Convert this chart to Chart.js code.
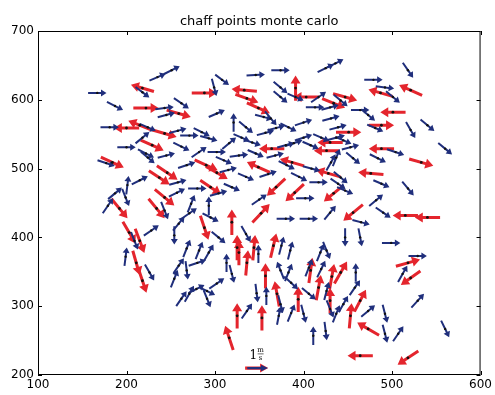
<!DOCTYPE html>
<html>
<head>
<meta charset="utf-8">
<script src="https://cdn.jsdelivr.net/npm/chart.js@4.4.1/dist/chart.umd.min.js"></script>
<style>
  html, body { margin: 0; padding: 0; background: #fff; }
  #wrap { width: 495px; height: 395px; }
</style>
</head>
<body>
<div id="wrap"><canvas id="chart" width="495" height="395"></canvas></div>
<script>
// axis limits
const xRange = [100, 600];
const yRange = [200, 700];
const tickStep = 100;

// [x, y, u, v] per arrow, u/v in m/s
const blueArrows = [
  [167,610,0.8,0],[187,591,0.7,-0.35],[235,633,0.7,0.3],[251,643,0.7,0.35],[218,611,0.6,-0.45],
  [299,618,0.2,-0.75],[308,629,0.6,-0.45],[346,636,0.8,0.05],[374,643,0.8,0],[374,618,0.6,-0.5],
  [374,604,0.6,-0.5],[243,588,0.8,0.1],[262,595,0.65,-0.45],[245,578,0.75,0.2],[302,580,0.7,0.3],
  [321,567,0,0.8],[335,560,0.6,-0.5],[355,575,0.75,-0.2],[363,573,0.5,-0.6],[181,560,0.8,0],
  [224,560,0.7,-0.3],[218,545,0.6,0.5],[271,548,0.8,0],[285,553,0.7,-0.35],[293,544,0.75,-0.2],
  [316,537,0.6,0.5],[342,538,0.75,-0.25],[369,559,0.75,0.2],[383,560,0.7,-0.35],[389,537,0.75,0.25],
  [200,531,0.8,0],[245,519,0.75,0.2],[222,522,0.7,-0.35],[282,524,0.65,0.45],[302,524,0.8,0],
  [327,519,0.8,0.1],[346,522,0.7,-0.3],[425,646,0.7,0.35],[436,653,0.7,0.35],[518,643,0.45,-0.65],
  [391,604,0.7,-0.3],[417,604,0.65,0.45],[479,629,0.8,0],[492,618,0.8,-0.1],[501,604,0.6,-0.5],
  [413,589,0.8,0],[430,589,0.75,0.2],[442,599,0.6,-0.5],[431,573,0.75,0.2],[464,585,0.8,0],
  [473,578,0.6,-0.5],[481,559,0.7,-0.3],[521,556,0.4,-0.7],[540,563,0.6,-0.5],[400,567,0.75,0.25],
  [439,560,0.75,0.2],[437,545,0.75,0.2],[420,545,0.7,-0.3],[400,545,0.75,0.25],[445,541,0.7,-0.3],
  [453,531,0.75,0.2],[408,534,0.7,-0.3],[380,534,0.75,0.2],[504,524,0.75,-0.25],[560,529,0.6,-0.5],
  [437,516,0.3,0.75],[456,515,0.6,-0.5],[484,515,0.7,-0.35],[177,508,0.75,-0.25],[224,516,0.6,-0.5],
  [215,483,0.7,0.35],[268,505,0.75,0.25],[310,512,0.7,-0.3],[368,519,0.75,0.2],[381,505,0.7,-0.35],
  [319,473,0.7,-0.3],[304,464,0.75,0.2],[280,471,0.8,0],[257,465,0.7,0.35],[201,476,0.1,0.8],
  [187,464,0.6,0.5],[179,446,0.45,0.65],[199,458,0.3,-0.75],[243,439,0.3,-0.75],[273,449,0.3,0.75],
  [271,435,0.65,0.45],[293,446,0,0.8],[295,429,0.7,-0.35],[380,427,0.8,0],[259,420,0.5,0.6],
  [254,403,0,-0.8],[228,410,0.65,0.45],[199,372,0.1,0.8],[268,384,0.3,0.75],[282,381,0.3,0.75],
  [304,400,0.6,-0.5],[335,405,0.4,-0.7],[385,381,0.2,0.78],[431,509,0.4,0.7],[409,500,0.75,-0.2],
  [442,487,0.6,-0.5],[417,480,0.8,0],[439,478,0.65,-0.45],[488,478,0.7,-0.3],[518,471,0.5,-0.6],
  [447,468,0.7,-0.3],[402,457,0.8,0],[482,454,0.6,0.5],[490,436,0.65,-0.45],[430,436,0.5,0.6],
  [406,427,0.8,0],[465,422,0.75,-0.2],[447,400,0,-0.8],[464,400,0.15,-0.78],[499,392,0.8,0],
  [375,388,0.2,0.78],[419,378,0.3,0.75],[426,381,0.3,-0.75],[226,349,0.4,-0.7],[293,378,0.4,0.7],
  [268,352,0.1,-0.8],[259,359,0.45,0.65],[280,363,0.75,0.25],[254,340,0.3,0.75],[279,325,0.7,0.35],
  [291,322,0.7,-0.35],[302,333,0.65,0.45],[262,311,0.45,0.65],[271,318,0.4,0.7],[291,311,0.3,-0.75],
  [313,363,0,0.8],[319,347,0.2,-0.78],[349,376,0,0.8],[374,352,-0.3,0.75],[383,349,0.3,0.75],
  [347,319,0.1,-0.8],[358,315,0,0.8],[374,303,0.2,-0.78],[386,334,0.6,-0.55],[336,293,0.45,0.65],
  [372,286,0.15,0.78],[386,290,0.3,0.75],[406,356,0.3,0.75],[420,354,0.35,0.72],[459,349,0,0.8],
  [529,373,0.8,0],[512,347,0.4,0.7],[406,318,0.6,-0.5],[426,322,0.2,0.78],[458,327,0.45,0.65],
  [430,296,0.3,-0.75],[445,303,0.4,0.7],[473,293,0.6,0.5],[492,289,0.2,-0.78],[529,308,0.55,0.6],
  [400,289,0.2,-0.78],[437,289,0.3,0.75],[492,260,0.2,-0.78],[507,260,0.45,0.65],[425,264,0.1,-0.8],
  [411,257,0,0.8],[560,267,0.35,-0.72],[209,395,0.3,-0.75],
  [258,555,0.75,0.2],[330,545,0.7,-0.3],[357,552,0.75,0.2],[262,532,0.7,-0.35],[315,498,0.75,0.2],
  [335,488,0.7,-0.3],[360,492,0.75,0.25],[395,488,0.7,-0.35],[258,480,0.75,0.2],[350,455,0.65,0.45]
];

const redArrows = [
  [218,617,-1.0,0.3],[288,610,1.1,0],[333,614,-1.1,0.1],[336,602,1.0,-0.35],[349,588,1.0,-0.45],
  [391,617,0,1.1],[222,588,1.1,0],[259,580,1.05,-0.3],[200,559,-1.1,0],[215,563,-1.0,0.4],
  [243,551,1.05,-0.3],[364,529,-1.1,0],[229,534,1.0,-0.45],[184,509,1.0,-0.45],[403,604,-1.1,0],
  [447,604,1.05,-0.3],[434,595,1.0,-0.4],[487,610,-1.05,0.3],[521,614,-1.0,0.45],[501,582,-1.1,0],
  [488,563,1.1,0],[451,553,1.1,0],[430,538,-1.1,0],[426,526,-1.1,0],[488,529,-1.1,0],
  [533,509,1.05,-0.3],[387,509,-1.05,0.3],[246,494,0.9,-0.6],[237,487,0.9,-0.6],[290,505,1.0,-0.45],
  [302,494,0.95,-0.55],[349,502,-1.0,0.45],[369,473,-0.8,-0.75],[390,465,-0.8,-0.75],[295,473,0.9,-0.6],
  [243,458,0.85,-0.7],[192,442,0.7,-0.85],[234,442,0.7,-0.85],[319,422,0,1.1],[352,435,0.75,0.8],
  [288,414,0.35,-1.05],[203,407,0.55,-0.95],[215,395,0.4,-1.05],[325,385,0,1.1],[344,385,0.1,1.1],
  [366,388,0.25,1.05],[428,493,-1.05,0.3],[476,493,-1.1,0.1],[434,464,-0.85,-0.7],[456,436,-0.85,-0.7],
  [515,432,-1.1,0],[540,429,-1.1,0],[211,363,0.3,-1.05],[218,337,0.35,-1.05],[327,378,0,1.1],
  [336,363,0.1,1.1],[357,344,0,1.1],[370,318,-0.2,1.1],[394,310,0,1.1],[325,286,0,1.1],
  [353,283,0,1.1],[316,254,-0.35,1.05],[408,352,0.15,1.1],[432,343,0.2,1.1],[442,349,0.55,0.95],
  [518,363,1.05,0.3],[521,341,-0.85,-0.6],[417,327,0.2,1.1],[430,308,0,1.1],[464,308,0.5,0.95],
  [453,286,0.1,1.1],[473,267,-0.95,0.55],[464,228,-1.1,0],[518,225,-0.9,-0.6]
];

// quiver key: position and value (m/s)
const keyPos = [347, 210];
const keyValue = 1;

const BLUE = "#202f7c";
const RED = "#e4252d";
const PX_PER_UNIT = 23;

function drawArrow(ctx, cx, cy, u, v, w, hl, hw, color) {
  const dx = u * PX_PER_UNIT, dy = -v * PX_PER_UNIT;
  const h = Math.hypot(dx, dy) / 2;
  ctx.save();
  ctx.translate(cx, cy);
  ctx.rotate(Math.atan2(dy, dx));
  ctx.fillStyle = color;
  ctx.beginPath();
  ctx.moveTo(-h, -w / 2);
  ctx.lineTo(h - hl, -w / 2);
  ctx.lineTo(h - hl, -hw);
  ctx.lineTo(h, 0);
  ctx.lineTo(h - hl, hw);
  ctx.lineTo(h - hl, w / 2);
  ctx.lineTo(-h, w / 2);
  ctx.closePath();
  ctx.fill();
  ctx.restore();
}

const quiverPlugin = {
  id: "quiver",
  beforeDatasetsDraw(chart) {
    const { ctx, scales: { x, y } } = chart;
    redArrows.forEach(a => drawArrow(ctx, x.getPixelForValue(a[0]), y.getPixelForValue(a[1]), a[2], a[3], 3.0, 8, 5, RED));
    blueArrows.forEach(a => drawArrow(ctx, x.getPixelForValue(a[0]), y.getPixelForValue(a[1]), a[2], a[3], 2.0, 5.5, 3.5, BLUE));

    // key
    const kx = x.getPixelForValue(keyPos[0]), ky = y.getPixelForValue(keyPos[1]);
    drawArrow(ctx, kx, ky, keyValue, 0, 3.4, 8, 4.5, RED);
    drawArrow(ctx, kx + 1, ky, keyValue * 0.9, 0, 2.2, 7, 3.2, BLUE);
  },
  afterDraw(chart) {
    const { ctx, chartArea: ca, scales: { x, y } } = chart;
    ctx.save();
    ctx.strokeStyle = "#000";
    ctx.lineWidth = 1;
    ctx.strokeRect(ca.left + 0.5, ca.top + 0.5, ca.right - ca.left - 1, ca.bottom - ca.top - 1);
    ctx.beginPath();
    for (let v = xRange[0]; v <= xRange[1]; v += tickStep) {
      const px = Math.round(x.getPixelForValue(v)) + 0.5;
      ctx.moveTo(px, ca.bottom); ctx.lineTo(px, ca.bottom - 4);
      ctx.moveTo(px, ca.top); ctx.lineTo(px, ca.top + 4);
    }
    for (let v = yRange[0]; v <= yRange[1]; v += tickStep) {
      const py = Math.round(y.getPixelForValue(v)) + 0.5;
      ctx.moveTo(ca.left, py); ctx.lineTo(ca.left + 4, py);
      ctx.moveTo(ca.right, py); ctx.lineTo(ca.right - 4, py);
    }
    ctx.stroke();

    // title
    ctx.fillStyle = "#000";
    ctx.font = "13px 'DejaVu Sans'";
    ctx.textAlign = "center";
    ctx.textBaseline = "alphabetic";
    ctx.fillText("chaff points monte carlo", (ca.left + ca.right) / 2, ca.top - 6);

    // key label: 1 m/s
    const lx = x.getPixelForValue(keyPos[0]), ly = y.getPixelForValue(keyPos[1]);
    ctx.font = "12px 'DejaVu Serif'";
    ctx.textAlign = "left";
    ctx.fillText("1", lx - 7, ly - 9);
    ctx.font = "7px 'DejaVu Serif'";
    ctx.textAlign = "center";
    ctx.fillText("m", lx + 4, ly - 16);
    ctx.fillText("s", lx + 4, ly - 8);
    ctx.fillRect(lx + 1, ly - 14.5, 6, 0.6);
    ctx.restore();
  }
};

const toPoints = arr => arr.map(a => ({ x: a[0], y: a[1] }));

new Chart(document.getElementById("chart"), {
  type: "scatter",
  data: {
    datasets: [
      { label: "red", data: toPoints(redArrows), pointRadius: 1.4, pointBackgroundColor: "#111", pointBorderWidth: 0 },
      { label: "blue", data: toPoints(blueArrows), pointRadius: 1.2, pointBackgroundColor: "#111", pointBorderWidth: 0 }
    ]
  },
  options: {
    responsive: false,
    animation: false,
    layout: { padding: { left: 0, right: 12, top: 31, bottom: 0 } },
    plugins: { legend: { display: false }, tooltip: { enabled: false }, title: { display: false } },
    scales: {
      x: {
        min: xRange[0], max: xRange[1],
        grid: { display: false, drawTicks: false },
        border: { display: false },
        ticks: { stepSize: tickStep, color: "#000", padding: 3, font: { family: "DejaVu Sans", size: 12 } },
        afterFit: s => { s.height = 20; }
      },
      y: {
        min: yRange[0], max: yRange[1],
        grid: { display: false, drawTicks: false },
        border: { display: false },
        ticks: { stepSize: tickStep, color: "#000", padding: 4, font: { family: "DejaVu Sans", size: 12 } },
        afterFit: s => { s.width = 38; }
      }
    }
  },
  plugins: [quiverPlugin]
});
</script>
</body>
</html>
